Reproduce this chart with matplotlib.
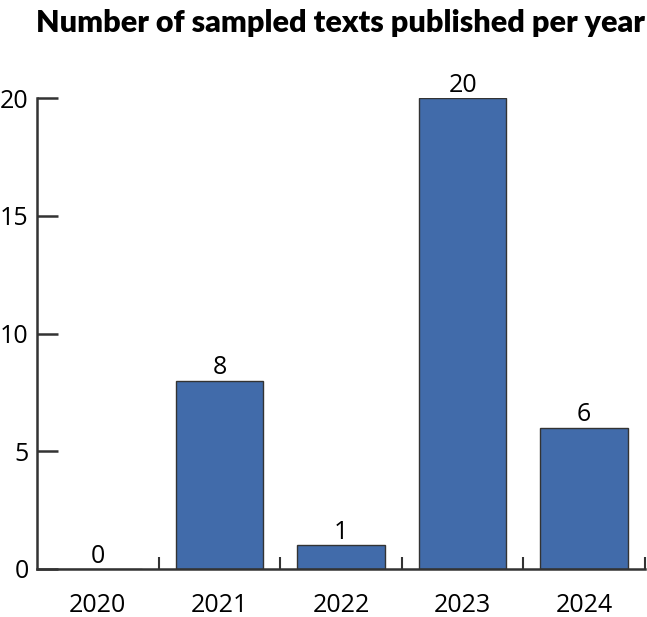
import matplotlib
matplotlib.use('Agg')
import matplotlib.pyplot as plt

years = ['2020', '2021', '2022', '2023', '2024']
counts = [0, 8, 1, 20, 6]
yticks = [0, 5, 10, 15, 20]

plt.rcParams['font.family'] = ['Open Sans', 'DejaVu Sans']

fig = plt.figure(figsize=(6.47, 6.17), dpi=100)
ax = fig.add_axes([37/647, 48/617, 608/647, 471/617])

x = range(len(years))
bars = ax.bar(x, counts, width=0.72, color='#416BAA', edgecolor='#333333', linewidth=1)
for xi, c in zip(x, counts):
    ax.text(xi, c + 0.02, str(c), ha='center', va='bottom', fontsize=18, clip_on=False)

ax.set_xlim(-0.5, 4.5)
ax.set_ylim(0, 20)
ax.set_yticks(yticks)
ax.set_xticks(list(x))
ax.set_xticklabels(years)
ax.set_xticks([0.5, 1.5, 2.5, 3.5, 4.5], minor=True)
ax.tick_params(axis='x', which='major', length=0, pad=17, labelsize=18)
ax.tick_params(axis='x', which='minor', direction='in', length=9, width=1.5, color='#333333')
ax.tick_params(axis='y', direction='in', length=15, width=1.8, color='#333333', pad=6, labelsize=18)
for s in ['top', 'right']:
    ax.spines[s].set_visible(False)
for s in ['left', 'bottom']:
    ax.spines[s].set_linewidth(1.8)
    ax.spines[s].set_color('#333333')

fig.text(0.996, 0.963, 'Number of sampled texts published per year', ha='right', va='center',
         fontsize=22, fontweight='heavy', family=['Lato', 'DejaVu Sans'])

fig.savefig('out.png', dpi=100)
